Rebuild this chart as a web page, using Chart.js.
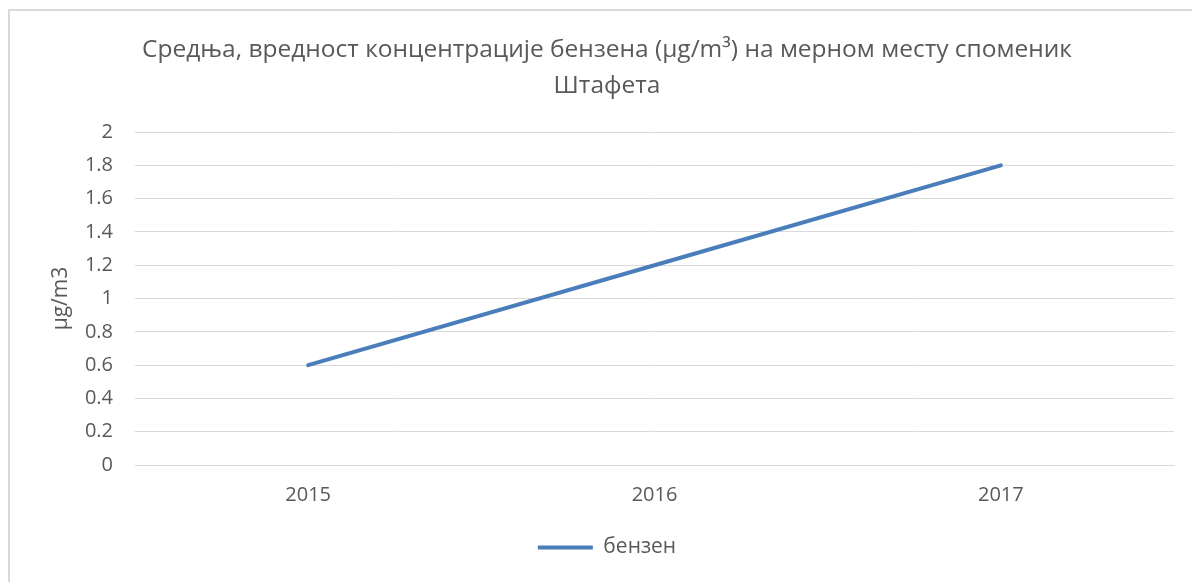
<!DOCTYPE html>
<html>
<head>
<meta charset="utf-8">
<script src="https://cdn.jsdelivr.net/npm/chart.js@4/dist/chart.umd.min.js"></script>
<style>
  html, body { margin: 0; padding: 0; background: #fff; overflow: hidden; }
  #wrap { position: relative; width: 1192px; height: 582px; }
  #frame { position: absolute; left: 8px; top: 9px; width: 1200px; height: 600px; border: 2px solid #d9d9d9; pointer-events: none; box-sizing: border-box; }
  canvas { position: absolute; left: 0; top: 0; }
</style>
</head>
<body>
<div id="wrap">
  <canvas id="c" width="1192" height="582"></canvas>
  <div id="frame"></div>
</div>
<script>
const titleLines = ["Средња, вредност концентрације бензена (μg/m³) на мерном месту споменик", "Штафета"];
const categories = ["2015", "2016", "2017"];
const seriesName = "бензен";
const benzeneValues = [0.6, 1.2, 1.8];
const yAxisTitle = "μg/m3";
const yMin = 0, yMax = 2, yStep = 0.2;

const FONT = "'Open Sans', 'Noto Sans', sans-serif";
const TEXT = "#595959";
const LINE = "#4a7ebb";

new Chart(document.getElementById('c'), {
  type: 'line',
  data: {
    labels: categories,
    datasets: [{
      label: seriesName,
      data: benzeneValues,
      borderColor: LINE,
      backgroundColor: LINE,
      borderWidth: 4,
      borderCapStyle: 'round',
      pointRadius: 0,
      pointHoverRadius: 0,
      tension: 0,
      fill: false
    }]
  },
  options: {
    responsive: false,
    animation: false,
    devicePixelRatio: 1,
    layout: { padding: { top: 32, right: 18, bottom: 14, left: 40 } },
    plugins: {
      title: {
        display: true,
        text: titleLines,
        color: TEXT,
        font: { family: FONT, size: 24.5, weight: 'normal', lineHeight: 1.47 },
        padding: { top: 0, bottom: 28 }
      },
      legend: {
        position: 'bottom',
        labels: {
          color: TEXT,
          font: { family: FONT, size: 21 },
          usePointStyle: true,
          pointStyle: 'line',
          pointStyleWidth: 55,
          boxHeight: 21,
          padding: 10
        }
      },
      tooltip: { enabled: false }
    },
    scales: {
      x: {
        offset: true,
        grid: { display: false, drawTicks: false },
        border: { display: true, color: '#d9d9d9', width: 1 },
        ticks: { color: TEXT, font: { family: FONT, size: 20 }, padding: 18 },
        afterFit: (s) => { s.height = 62; }
      },
      y: {
        min: yMin,
        max: yMax,
        ticks: {
          stepSize: yStep,
          color: TEXT,
          font: { family: FONT, size: 20 },
          padding: 22,
          callback: (v) => Number(v.toFixed(1)).toString()
        },
        grid: { color: '#d9d9d9', lineWidth: 1, drawTicks: false },
        border: { display: false },
        title: {
          display: true,
          text: yAxisTitle,
          color: TEXT,
          font: { family: FONT, size: 21 },
          padding: { top: 8, bottom: 2 }
        },
        afterFit: (s) => { s.width = 95; }
      }
    }
  }
});
</script>
</body>
</html>
